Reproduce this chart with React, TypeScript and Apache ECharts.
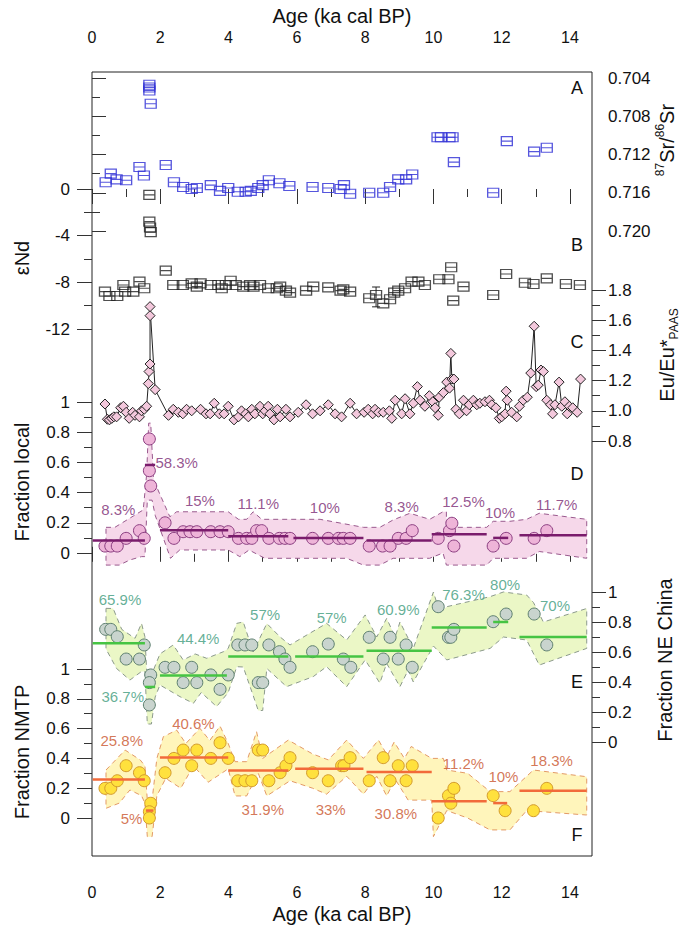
import React, { useEffect, useRef } from "react";
import * as echarts from "echarts";

const FONT = "'Liberation Sans', Arial, sans-serif";

// ---------- tick values ----------
const ageMajor = [0, 2, 4, 6, 8, 10, 12, 14];
const ageMinor = [1, 3, 5, 7, 9, 11, 13];
const ndMajor = [0, -4, -8, -12];
const ndMinor = [-2, -6, -10];
const srMajor = [0.704, 0.708, 0.712, 0.716, 0.72];
const srMinor = [0.706, 0.71, 0.714, 0.718];
const euMajor = [0.8, 1.0, 1.2, 1.4, 1.6, 1.8];
const euMinor = [0.9, 1.1, 1.3, 1.5, 1.7];
const fracMajor = [0, 0.2, 0.4, 0.6, 0.8, 1];
const fracMinor = [0.1, 0.3, 0.5, 0.7, 0.9];

// ---------- A: 87Sr/86Sr ----------
const srData = [
  [0.40, 0.7149], [0.55, 0.7140], [0.72, 0.7146], [1.00, 0.7147], [1.39, 0.7133], [1.52, 0.7142],
  [1.68, 0.7047], [1.68, 0.7050], [1.68, 0.7053], [1.72, 0.7067], [2.16, 0.7131], [2.40, 0.7149],
  [2.67, 0.7154], [2.92, 0.7156], [3.07, 0.7155], [3.48, 0.7152], [3.75, 0.7158], [3.99, 0.7155],
  [4.27, 0.7159], [4.50, 0.7159], [4.65, 0.7158], [4.87, 0.7155], [5.00, 0.7152], [5.18, 0.7147],
  [5.49, 0.7150], [5.78, 0.7153], [6.46, 0.7154], [6.92, 0.7155], [7.28, 0.7156], [7.38, 0.7152],
  [7.56, 0.7161], [8.12, 0.7160], [8.53, 0.7160], [8.73, 0.7154], [8.97, 0.7146], [9.20, 0.7146],
  [9.38, 0.7141], [10.12, 0.7102], [10.22, 0.7102], [10.47, 0.7102], [10.56, 0.7102], [10.60, 0.7128],
  [11.75, 0.7160], [12.15, 0.7106], [12.95, 0.7117], [13.32, 0.7113],
];

// ---------- B: eNd ----------
const ndData = [
  [0.38, -8.8], [0.51, -9.17], [0.74, -9.17], [0.92, -8.23], [0.97, -8.8], [1.21, -8.8], [1.39, -7.94],
  [1.53, -8.51], [1.68, -0.5], [1.68, -2.8], [1.70, -3.3], [1.72, -3.7], [2.16, -7.0], [2.38, -8.23],
  [2.66, -8.23], [2.92, -8.09], [3.07, -8.37], [3.18, -8.09], [3.48, -8.23], [3.70, -8.23], [3.80, -8.51],
  [3.92, -8.23], [4.06, -7.86], [4.21, -8.23], [4.43, -8.37], [4.63, -8.23], [4.73, -8.37], [4.92, -8.23],
  [5.16, -8.51], [5.41, -8.51], [5.51, -8.37], [5.68, -8.71], [5.80, -8.88], [6.27, -8.71], [6.48, -8.37],
  [6.92, -8.43], [7.28, -8.71], [7.36, -8.6], [7.56, -8.8], [8.12, -9.37], [8.32, -9.08], [8.53, -9.8],
  [8.73, -9.45], [8.85, -8.88], [8.97, -8.71], [9.17, -8.51], [9.36, -7.94], [9.56, -7.94], [9.75, -8.23],
  [10.17, -7.74], [10.44, -7.74], [10.52, -6.71], [10.58, -9.57], [10.88, -8.37], [11.75, -9.08],
  [12.13, -7.28], [12.68, -8.03], [12.93, -8.14], [13.32, -7.66], [13.88, -8.14], [14.29, -8.23],
];
const ndErrors = [[8.32, -10.1, -8.4]];

// ---------- C: Eu/Eu* ----------
const euData = [
  [0.38, 1.045], [0.45, 0.944], [0.51, 0.94], [0.58, 0.95], [0.64, 0.96], [0.72, 0.96], [0.84, 1.02],
  [0.92, 1.03], [1.00, 0.99], [1.09, 0.95], [1.19, 0.99], [1.26, 0.97], [1.39, 0.96], [1.45, 1.0],
  [1.53, 1.01], [1.60, 1.03], [1.65, 1.18], [1.67, 1.26], [1.70, 1.31], [1.70, 1.63], [1.70, 1.69],
  [1.85, 1.14], [2.24, 0.97], [2.38, 1.01], [2.53, 0.99], [2.66, 0.98], [2.77, 1.01], [2.92, 1.0],
  [3.18, 1.01], [3.34, 0.98], [3.46, 0.98], [3.58, 1.05], [3.73, 0.98], [3.87, 0.98], [3.99, 1.03],
  [4.16, 0.94], [4.29, 0.96], [4.38, 1.0], [4.50, 0.98], [4.58, 0.96], [4.68, 1.01], [4.77, 0.98],
  [4.92, 1.03], [5.00, 0.98], [5.07, 1.0], [5.16, 1.03], [5.21, 0.98], [5.33, 0.94], [5.43, 1.01],
  [5.51, 0.96], [5.68, 1.01], [5.80, 0.96], [6.04, 0.99], [6.27, 1.04], [6.46, 0.98], [6.68, 1.0],
  [6.92, 1.04], [7.12, 0.98], [7.31, 0.96], [7.56, 1.05], [7.75, 0.98], [7.97, 0.99], [8.09, 1.01],
  [8.22, 0.98], [8.29, 1.01], [8.39, 0.99], [8.53, 0.99], [8.71, 1.0], [8.78, 0.95], [8.88, 1.07],
  [9.07, 0.98], [9.17, 1.08], [9.31, 0.98], [9.41, 1.05], [9.53, 1.16], [9.61, 1.07], [9.75, 1.03],
  [9.88, 1.10], [9.98, 1.06], [10.05, 1.02], [10.14, 0.97], [10.17, 1.09], [10.29, 1.12], [10.39, 1.19],
  [10.47, 1.15], [10.51, 1.38], [10.54, 1.21], [10.60, 1.21], [10.66, 1.01], [10.76, 0.98], [10.88, 1.07],
  [10.97, 1.0], [11.05, 1.04], [11.17, 1.07], [11.27, 1.04], [11.36, 1.05], [11.51, 1.06], [11.64, 1.07],
  [11.71, 1.04], [11.83, 1.02], [11.93, 0.95], [12.00, 0.96], [12.10, 0.98], [12.13, 1.13], [12.16, 1.07],
  [12.29, 0.99], [12.44, 0.96], [12.52, 1.03], [12.63, 1.07], [12.75, 1.09], [12.85, 1.25], [12.95, 1.56],
  [13.01, 1.16], [13.07, 1.17], [13.15, 1.27], [13.22, 1.26], [13.32, 1.07], [13.43, 1.04], [13.49, 0.98],
  [13.56, 1.04], [13.68, 1.19], [13.76, 1.03], [13.85, 1.06], [13.92, 0.98], [13.98, 1.03], [14.08, 1.02],
  [14.21, 0.99], [14.31, 1.21],
];

// ---------- D: Fraction local ----------
const localPts = [
  [1.68, 0.755], [1.68, 0.545], [1.72, 0.444], [0.38, 0.046], [0.55, 0.046], [0.74, 0.046], [1.00, 0.097],
  [1.39, 0.148], [1.53, 0.097], [2.14, 0.2], [2.40, 0.097], [2.67, 0.141], [2.87, 0.141], [3.07, 0.141],
  [3.48, 0.141], [3.75, 0.141], [3.99, 0.141], [4.29, 0.097], [4.53, 0.097], [4.68, 0.097], [4.82, 0.148],
  [4.97, 0.148], [5.18, 0.097], [5.49, 0.097], [5.65, 0.097], [5.80, 0.097], [6.46, 0.097], [6.92, 0.097],
  [7.22, 0.097], [7.36, 0.097], [7.56, 0.097], [8.12, 0.046], [8.51, 0.046], [8.73, 0.046], [8.97, 0.097],
  [9.20, 0.097], [9.38, 0.148], [10.14, 0.097], [10.47, 0.148], [10.54, 0.197], [10.60, 0.046],
  [11.75, 0.046], [12.13, 0.097], [12.95, 0.097], [13.32, 0.148],
];
const localMeans = [
  [0.02, 1.55, 0.083], [1.55, 1.85, 0.583], [1.99, 3.99, 0.15], [3.99, 5.75, 0.111], [5.90, 7.95, 0.10],
  [8.04, 9.95, 0.083], [9.95, 11.56, 0.125], [11.75, 12.19, 0.10], [12.52, 14.49, 0.117],
];
const localLabels = [
  [0.77, 0.29, "8.3%"], [2.48, 0.60, "58.3%"], [3.16, 0.35, "15%"], [4.87, 0.33, "11.1%"],
  [6.82, 0.30, "10%"], [9.07, 0.31, "8.3%"], [10.88, 0.34, "12.5%"], [11.95, 0.27, "10%"], [13.61, 0.32, "11.7%"],
];
const localUpper = [
  [0.41, 0.17], [0.67, 0.17], [1.21, 0.245], [1.50, 0.285], [1.60, 0.52], [1.66, 0.86], [1.72, 0.86],
  [1.80, 0.50], [1.85, 0.46], [2.28, 0.24], [2.48, 0.273], [3.99, 0.273], [4.29, 0.223], [4.53, 0.223],
  [4.72, 0.273], [4.97, 0.223], [5.80, 0.223], [6.68, 0.223], [7.95, 0.17], [8.43, 0.17], [8.82, 0.219],
  [9.31, 0.263], [9.89, 0.223], [10.28, 0.273], [10.38, 0.273], [10.38, 0.17], [11.56, 0.17], [11.75, 0.21],
  [12.24, 0.21], [12.73, 0.223], [13.1, 0.263], [14.49, 0.223],
];
const localLower = [
  [0.41, -0.08], [0.80, -0.08], [1.11, -0.046], [1.45, -0.024], [1.55, -0.024], [1.62, 0.35], [1.76, 0.35],
  [1.85, 0.25], [2.30, -0.035], [2.57, 0.02], [3.99, 0.02], [4.33, -0.024], [4.60, 0.02], [5.06, -0.035],
  [5.90, -0.035], [7.46, -0.035], [7.95, -0.08], [8.43, -0.08], [8.82, -0.035], [9.89, -0.035], [10.28, 0.0],
  [10.38, -0.08], [11.56, -0.08], [11.75, -0.035], [12.24, -0.035], [12.73, -0.035], [13.1, 0.01], [14.49, -0.035],
];

// ---------- E: Fraction NE China ----------
const nePts = [
  [0.40, 0.751], [0.55, 0.751], [0.74, 0.702], [1.00, 0.553], [1.39, 0.553], [1.53, 0.647], [1.72, 0.447],
  [1.68, 0.396], [1.68, 0.247], [2.14, 0.498], [2.40, 0.498], [2.67, 0.396], [2.92, 0.498], [3.07, 0.396],
  [3.48, 0.447], [3.75, 0.351], [3.99, 0.447], [4.27, 0.647], [4.48, 0.647], [4.68, 0.647], [4.87, 0.396],
  [5.00, 0.396], [5.18, 0.647], [5.49, 0.602], [5.65, 0.553], [5.80, 0.498], [6.46, 0.602], [6.92, 0.653],
  [7.36, 0.553], [7.58, 0.498], [8.12, 0.698], [8.53, 0.553], [8.73, 0.698], [8.97, 0.553], [9.20, 0.647],
  [9.38, 0.498], [10.14, 0.902], [10.44, 0.698], [10.51, 0.698], [10.60, 0.751], [11.75, 0.802],
  [12.13, 0.853], [12.95, 0.853], [13.32, 0.647],
];
const neMeans = [
  [0.02, 1.55, 0.659], [1.55, 1.85, 0.367], [1.99, 3.95, 0.444], [3.99, 5.75, 0.57], [5.95, 7.95, 0.57],
  [8.04, 9.95, 0.609], [9.95, 11.56, 0.763], [11.75, 12.19, 0.80], [12.52, 14.49, 0.70],
];
const neLabels = [
  [0.82, 0.953, "65.9%"], [0.90, 0.302, "36.7%"], [3.11, 0.687, "44.4%"], [5.07, 0.851, "57%"],
  [7.02, 0.831, "57%"], [8.97, 0.885, "60.9%"], [10.88, 0.985, "76.3%"], [12.10, 1.053, "80%"], [13.56, 0.909, "70%"],
];
const neUpper = [
  [0.41, 0.891], [0.62, 0.89], [0.87, 0.751], [1.26, 0.691], [1.45, 0.791], [1.55, 0.702], [1.60, 0.48],
  [1.80, 0.48], [1.99, 0.587], [2.38, 0.647], [2.67, 0.547], [3.02, 0.587], [3.36, 0.558], [3.85, 0.602],
  [3.99, 0.624], [4.24, 0.791], [4.43, 0.80], [4.72, 0.60], [5.12, 0.79], [5.51, 0.70], [5.80, 0.647],
  [6.87, 0.791], [7.46, 0.68], [8.0, 0.847], [8.34, 0.70], [8.63, 0.824], [8.88, 0.70], [9.02, 0.80],
  [9.41, 0.624], [10.0, 1.0], [10.19, 0.86], [10.39, 0.902], [11.66, 0.969], [12.05, 1.0], [12.73, 0.98],
  [12.93, 0.93], [13.22, 0.80], [14.49, 0.89],
];
const neLower = [
  [0.41, 0.62], [0.72, 0.49], [1.11, 0.413], [1.45, 0.47], [1.55, 0.47], [1.62, 0.12], [1.74, 0.12],
  [1.85, 0.30], [1.99, 0.38], [2.58, 0.302], [2.97, 0.258], [3.20, 0.33], [3.65, 0.236], [3.99, 0.33],
  [4.24, 0.502], [4.43, 0.50], [4.72, 0.31], [4.87, 0.21], [5.0, 0.21], [5.12, 0.49], [5.70, 0.369],
  [6.48, 0.436], [6.87, 0.502], [7.46, 0.369], [8.0, 0.547], [8.43, 0.393], [8.63, 0.524], [9.02, 0.369],
  [9.26, 0.48], [9.41, 0.40], [10.0, 0.64], [10.39, 0.547], [11.66, 0.624], [12.05, 0.70], [12.73, 0.68],
  [13.1, 0.513], [14.49, 0.624],
];

// ---------- F: Fraction NMTP ----------
const nmtpPts = [
  [0.38, 0.199], [0.55, 0.199], [0.74, 0.25], [1.00, 0.351], [1.39, 0.304], [1.53, 0.25], [1.72, 0.099],
  [1.68, 0.042], [1.68, 0.0], [2.14, 0.304], [2.40, 0.40], [2.67, 0.456], [2.92, 0.351], [3.07, 0.456],
  [3.48, 0.40], [3.75, 0.505], [3.99, 0.40], [4.27, 0.25], [4.48, 0.25], [4.68, 0.25], [4.87, 0.456],
  [5.00, 0.456], [5.18, 0.25], [5.51, 0.304], [5.68, 0.351], [5.80, 0.405], [6.46, 0.304], [6.92, 0.25],
  [7.31, 0.351], [7.38, 0.351], [7.56, 0.405], [8.12, 0.25], [8.53, 0.405], [8.73, 0.25], [8.97, 0.351],
  [9.20, 0.25], [9.38, 0.351], [10.14, 0.0], [10.44, 0.15], [10.51, 0.099], [10.60, 0.199], [11.75, 0.15],
  [12.10, 0.049], [12.93, 0.049], [13.32, 0.199],
];
const nmtpMeans = [
  [0.02, 1.55, 0.258], [1.58, 1.80, 0.05], [1.99, 3.99, 0.406], [3.99, 5.75, 0.319], [5.95, 7.95, 0.33],
  [8.04, 9.95, 0.308], [9.95, 11.56, 0.112], [11.75, 12.16, 0.10], [12.52, 14.49, 0.183],
];
const nmtpLabels = [
  [0.87, 0.519, "25.8%"], [1.16, -0.002, "5%"], [2.97, 0.631, "40.6%"], [5.00, 0.060, "31.9%"],
  [6.99, 0.060, "33%"], [8.90, 0.032, "30.8%"], [10.88, 0.367, "11.2%"], [12.05, 0.277, "10%"], [13.46, 0.389, "18.3%"],
];
const nmtpUpper = [
  [0.41, 0.322], [0.97, 0.456], [1.41, 0.39], [1.55, 0.35], [1.62, 0.12], [1.76, 0.12], [1.90, 0.40],
  [2.09, 0.546], [2.48, 0.59], [2.75, 0.50], [3.16, 0.602], [3.45, 0.52], [3.75, 0.617], [3.99, 0.50],
  [4.19, 0.378], [4.53, 0.378], [4.82, 0.579], [5.0, 0.40], [5.75, 0.523], [6.46, 0.43], [6.92, 0.39],
  [7.46, 0.523], [7.95, 0.40], [8.39, 0.523], [8.65, 0.42], [8.85, 0.51], [9.15, 0.40], [9.35, 0.48],
  [9.95, 0.40], [10.29, 0.40], [10.39, 0.322], [11.0, 0.30], [11.66, 0.177], [12.24, 0.177], [12.93, 0.322],
  [14.49, 0.277],
];
const nmtpLower = [
  [0.41, 0.065], [0.80, 0.10], [1.11, 0.188], [1.45, 0.15], [1.55, 0.10], [1.62, -0.125], [1.76, -0.125],
  [1.90, 0.15], [2.16, 0.266], [2.60, 0.20], [2.97, 0.35], [3.40, 0.24], [3.99, 0.33], [4.19, 0.148],
  [4.53, 0.148], [4.87, 0.30], [5.12, 0.148], [5.80, 0.25], [6.46, 0.20], [6.87, 0.16], [7.46, 0.28],
  [7.95, 0.16], [8.34, 0.28], [8.63, 0.148], [8.88, 0.26], [9.26, 0.12], [9.95, 0.12], [10.0, -0.125],
  [10.39, 0.05], [11.0, 0.0], [11.66, -0.08], [12.24, -0.08], [12.73, 0.05], [14.49, 0.02],
];

// ---------- layout ----------
const PLOT = { left: 92, right: 592, top: 72, bottom: 856 };
const X_PX_PER_KA = (570 - 92) / 14;

function extentFor(v1: number, p1: number, v2: number, p2: number) {
  const k = (v2 - v1) / (p2 - p1);
  const a = v1 + (PLOT.top - p1) * k;
  const b = v1 + (PLOT.bottom - p1) * k;
  return { min: Math.min(a, b), max: Math.max(a, b), inverse: k > 0 };
}

function yAxisPair(pos: string, ext: any, majors: number[], minors: number[], fmt: (v: number) => string) {
  const common = {
    type: "value",
    gridIndex: 0,
    position: pos,
    min: ext.min,
    max: ext.max,
    inverse: ext.inverse,
    axisLine: { show: false },
    splitLine: { show: false },
  };
  const major = {
    ...common,
    axisTick: { show: true, customValues: majors, length: pos === "left" ? 15 : 14, lineStyle: { color: "#333", width: 1 } },
    axisLabel: {
      show: true,
      customValues: majors,
      formatter: fmt,
      margin: pos === "left" ? 22 : 16,
      fontSize: 17,
      fontFamily: FONT,
      color: "#111",
    },
  };
  const minor = {
    ...common,
    axisTick: { show: true, customValues: minors, length: 8, lineStyle: { color: "#333", width: 1 } },
    axisLabel: { show: false },
  };
  return [major, minor];
}

function bandSeries(yIdx: number, upper: number[][], lower: number[][], fill: string, stroke: string) {
  return {
    type: "custom",
    xAxisIndex: 0,
    yAxisIndex: yIdx,
    data: [[0, 0]],
    silent: true,
    z: 1,
    renderItem: (_p: any, api: any) => {
      const pts = upper.map((p) => api.coord(p)).concat(lower.slice().reverse().map((p) => api.coord(p)));
      return {
        type: "polygon",
        shape: { points: pts },
        style: { fill, stroke, lineWidth: 1, lineDash: [5, 4] },
      };
    },
  };
}

function meanSeries(yIdx: number, segs: number[][], color: string) {
  return {
    type: "custom",
    xAxisIndex: 0,
    yAxisIndex: yIdx,
    data: segs,
    encode: { x: [0, 1], y: 2 },
    silent: true,
    z: 4,
    renderItem: (_p: any, api: any) => {
      const a = api.coord([api.value(0), api.value(2)]);
      const b = api.coord([api.value(1), api.value(2)]);
      return {
        type: "line",
        shape: { x1: a[0], y1: a[1], x2: b[0], y2: b[1] },
        style: { stroke: color, lineWidth: 2.5 },
      };
    },
  };
}

function circleSeries(yIdx: number, pts: number[][], fill: string, border: string) {
  return {
    type: "scatter",
    xAxisIndex: 0,
    yAxisIndex: yIdx,
    data: pts,
    symbol: "circle",
    symbolSize: 12,
    silent: true,
    z: 3,
    itemStyle: { color: fill, borderColor: border, borderWidth: 1, opacity: 1 },
  };
}

function labelSeries(yIdx: number, labels: any[], color: string) {
  return {
    type: "scatter",
    xAxisIndex: 0,
    yAxisIndex: yIdx,
    data: labels.map((l) => ({ value: [l[0], l[1]], name: l[2] })),
    symbolSize: 1,
    silent: true,
    z: 6,
    itemStyle: { color: "rgba(0,0,0,0)" },
    label: { show: true, position: "inside", formatter: "{b}", color, fontSize: 15, fontFamily: FONT },
  };
}

function buildOption() {
  const xMax = (PLOT.right - PLOT.left) / X_PX_PER_KA;
  const ndExt = extentFor(0, 189, -12, 329);
  const srExt = extentFor(0.704, 78, 0.72, 231);
  const euExt = extentFor(1.8, 290, 0.8, 441);
  const localExt = extentFor(0, 553, 1, 402);
  const neExt = extentFor(0, 742, 1, 592);
  const nmtpExt = extentFor(0, 818, 1, 669);

  const fracFmt = (v: number) => String(v);
  const yAxes = [
    ...yAxisPair("left", ndExt, ndMajor, ndMinor, (v) => String(v)), // 0,1
    ...yAxisPair("right", srExt, srMajor, srMinor, (v) => v.toFixed(3)), // 2,3
    ...yAxisPair("right", euExt, euMajor, euMinor, (v) => v.toFixed(1)), // 4,5
    ...yAxisPair("left", localExt, fracMajor, fracMinor, fracFmt), // 6,7
    ...yAxisPair("right", neExt, fracMajor, fracMinor, fracFmt), // 8,9
    ...yAxisPair("left", nmtpExt, fracMajor, fracMinor, fracFmt), // 10,11
  ];

  const xCommon = {
    type: "value",
    gridIndex: 0,
    min: 0,
    max: xMax,
    axisLine: { show: false },
    splitLine: { show: false },
  };
  const xLabel = { show: true, customValues: ageMajor, margin: 28, fontSize: 16, fontFamily: FONT, color: "#111" };
  const xAxes = [
    { ...xCommon, position: "bottom", axisTick: { customValues: ageMajor, length: 15, lineStyle: { color: "#333" } }, axisLabel: xLabel },
    { ...xCommon, position: "bottom", axisTick: { customValues: ageMinor, length: 8, lineStyle: { color: "#333" } }, axisLabel: { show: false } },
    { ...xCommon, position: "top", axisTick: { customValues: ageMajor, length: 15, lineStyle: { color: "#333" } }, axisLabel: { ...xLabel, margin: 27 } },
    { ...xCommon, position: "top", axisTick: { customValues: ageMinor, length: 8, lineStyle: { color: "#333" } }, axisLabel: { show: false } },
  ];

  const boxSymbol = "path://M0,0L10,0L10,8L0,8Z M0,4L10,4";

  const series: any[] = [
    // A
    {
      type: "scatter", xAxisIndex: 0, yAxisIndex: 2, data: srData, symbol: boxSymbol, symbolSize: [11, 9],
      silent: true, z: 3, itemStyle: { color: "rgba(0,0,0,0)", borderColor: "#2c2cd4", borderWidth: 1.2 },
    },
    // B
    {
      type: "custom", xAxisIndex: 0, yAxisIndex: 0, data: ndErrors, encode: { x: 0, y: [1, 2] }, silent: true, z: 2,
      renderItem: (_p: any, api: any) => {
        const lo = api.coord([api.value(0), api.value(1)]);
        const hi = api.coord([api.value(0), api.value(2)]);
        return {
          type: "group",
          children: [
            { type: "line", shape: { x1: lo[0], y1: lo[1], x2: hi[0], y2: hi[1] }, style: { stroke: "#222", lineWidth: 1 } },
            { type: "line", shape: { x1: lo[0] - 4, y1: lo[1], x2: lo[0] + 4, y2: lo[1] }, style: { stroke: "#222", lineWidth: 1 } },
            { type: "line", shape: { x1: hi[0] - 4, y1: hi[1], x2: hi[0] + 4, y2: hi[1] }, style: { stroke: "#222", lineWidth: 1 } },
          ],
        };
      },
    },
    {
      type: "scatter", xAxisIndex: 0, yAxisIndex: 0, data: ndData, symbol: boxSymbol, symbolSize: [11, 9],
      silent: true, z: 3, itemStyle: { color: "rgba(0,0,0,0)", borderColor: "#222", borderWidth: 1.2 },
    },
    // C
    {
      type: "line", xAxisIndex: 0, yAxisIndex: 4, data: euData, symbol: "diamond", symbolSize: 10, showAllSymbol: true,
      silent: true, z: 3, lineStyle: { color: "#222", width: 1 },
      itemStyle: { color: "#f3c8dc", borderColor: "#222", borderWidth: 1 },
    },
    // D
    bandSeries(6, localUpper, localLower, "#f6d8ea", "#9a5a8e"),
    circleSeries(6, localPts, "#eeb4d8", "#8a3c80"),
    meanSeries(6, localMeans, "#7a1c6c"),
    labelSeries(6, localLabels, "#7b2a74"),
    // E
    bandSeries(8, neUpper, neLower, "#ebf7c6", "#8c9a8c"),
    circleSeries(8, nePts, "#c9d4ce", "#5d7f6f"),
    meanSeries(8, neMeans, "#46c443"),
    labelSeries(8, neLabels, "#3d9b7c"),
    // F
    bandSeries(10, nmtpUpper, nmtpLower, "#fff5bb", "#e39a66"),
    circleSeries(10, nmtpPts, "#ffe13d", "#d39a2c"),
    meanSeries(10, nmtpMeans, "#f26a3a"),
    labelSeries(10, nmtpLabels, "#c9542c"),
  ];

  const txt = (x: number, y: number, text: string, size: number, rot = 0, extra: any = {}) => ({
    type: "text",
    x,
    y,
    rotation: rot,
    silent: true,
    z: 10,
    style: {
      text,
      font: `${size}px ${FONT}`,
      fill: "#111",
      align: "center",
      verticalAlign: "middle",
      textAlign: "center",
      textVerticalAlign: "middle",
      ...extra,
    },
  });

  const richBase = {
    n: { fontSize: 20, fontFamily: FONT, lineHeight: 26, fill: "#111", color: "#111" },
    sup: { fontSize: 12, fontFamily: FONT, lineHeight: 14, verticalAlign: "top", fill: "#111", color: "#111" },
    sub: { fontSize: 12, fontFamily: FONT, lineHeight: 14, verticalAlign: "bottom", fill: "#111", color: "#111" },
  };

  const graphic = [
    txt(342, 16, "Age (ka cal BP)", 20),
    txt(342, 914, "Age (ka cal BP)", 20),
    txt(22, 258, "εNd", 20, Math.PI / 2),
    txt(22, 482, "Fraction local", 20, Math.PI / 2),
    txt(22, 752, "Fraction NMTP", 20, Math.PI / 2),
    txt(665, 660, "Fraction NE China", 20, Math.PI / 2),
    txt(667, 140, "{sup|87}{n|Sr/}{sup|86}{n|Sr}", 20, Math.PI / 2, { rich: richBase }),
    txt(667, 355, "{n|Eu/Eu*}{sub|PAAS}", 20, Math.PI / 2, { rich: richBase }),
    txt(577, 88, "A", 18),
    txt(577, 245, "B", 18),
    txt(577, 342, "C", 18),
    txt(577, 474, "D", 18),
    txt(577, 682, "E", 18),
    txt(577, 835, "F", 18),
  ];

  return {
    animation: false,
    backgroundColor: "#ffffff",
    grid: [
      {
        left: PLOT.left,
        top: PLOT.top,
        width: PLOT.right - PLOT.left,
        height: PLOT.bottom - PLOT.top,
        show: true,
        borderColor: "#222",
        borderWidth: 1,
        backgroundColor: "rgba(0,0,0,0)",
      },
    ],
    xAxis: xAxes,
    yAxis: yAxes,
    series,
    graphic,
  };
}

export default function App() {
  const ref = useRef<HTMLDivElement>(null);
  useEffect(() => {
    if (!ref.current) return;
    const chart = echarts.init(ref.current, null, { renderer: "svg" });
    chart.setOption(buildOption() as any);
    return () => chart.dispose();
  }, []);
  return (
    <div
      ref={ref}
      style={{ position: "fixed", left: 0, top: 0, width: 687, height: 930, background: "#fff" }}
    />
  );
}
